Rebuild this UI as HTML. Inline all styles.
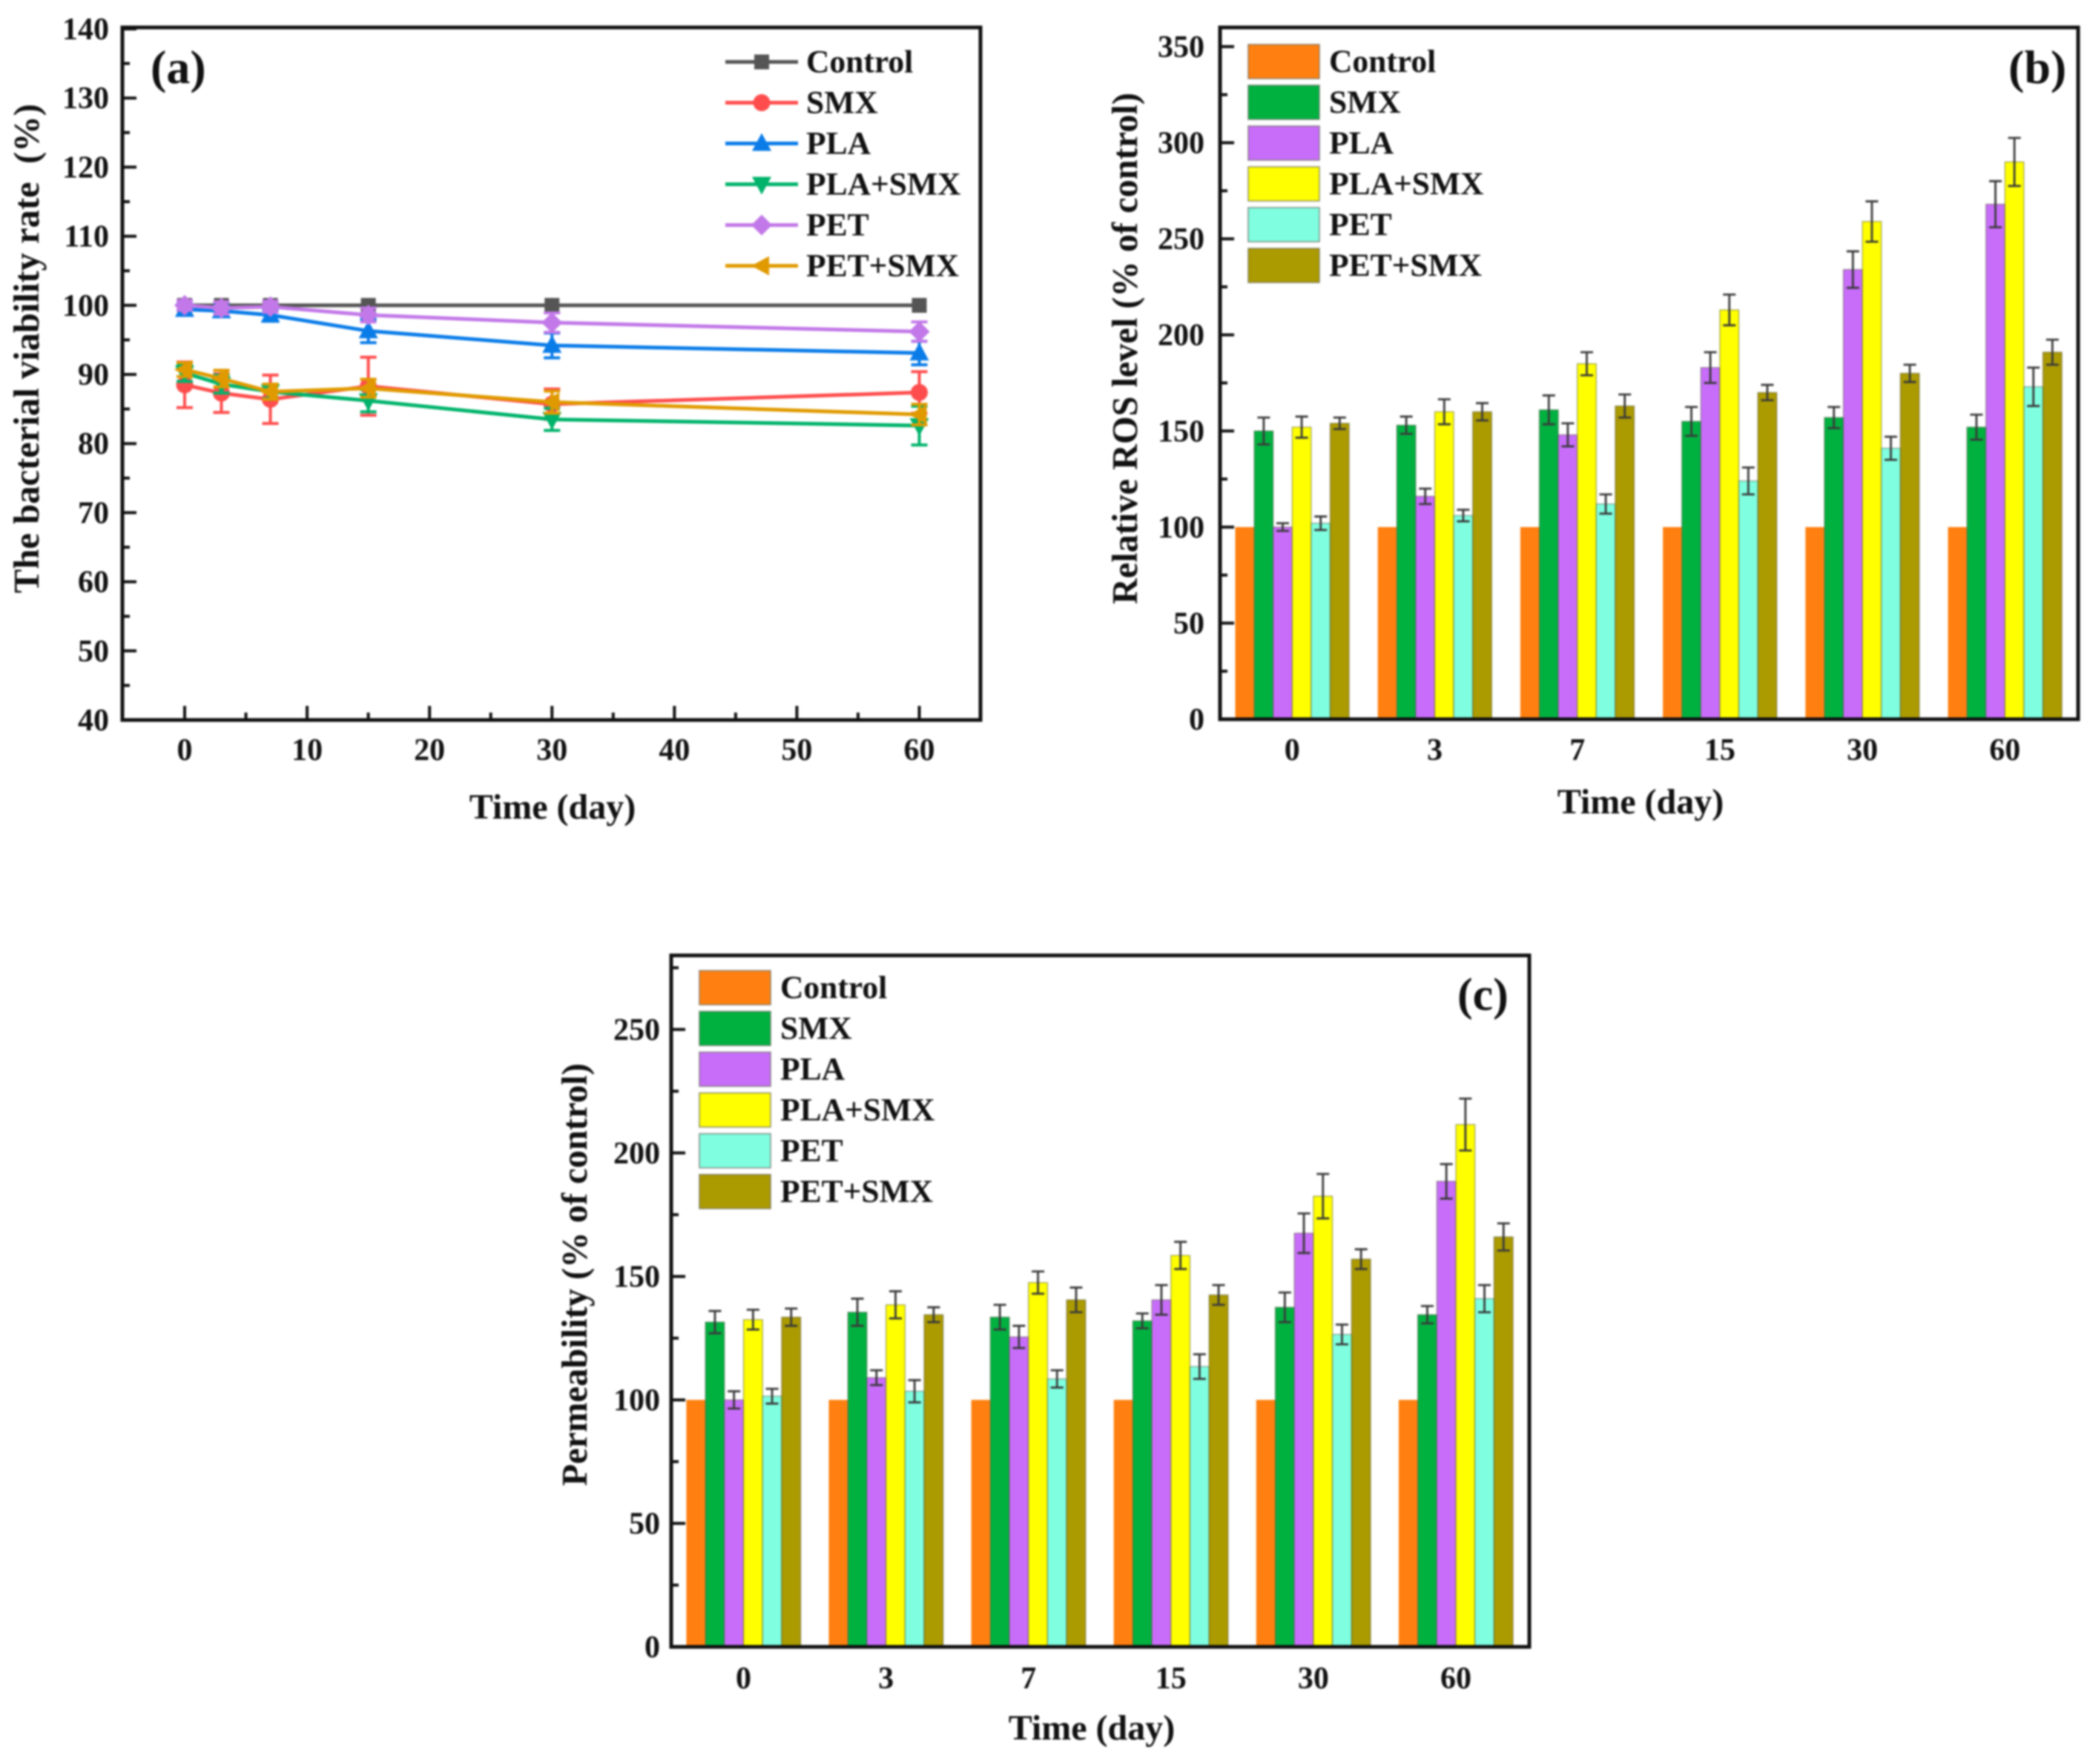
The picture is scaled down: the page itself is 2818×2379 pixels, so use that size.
<!DOCTYPE html>
<html lang="en">
<head>
<meta charset="utf-8">
<title>Bacterial viability, ROS level and permeability over time</title>
<style>
html,body{margin:0;padding:0;background:#fff;width:2818px;height:2379px;overflow:hidden}
svg{display:block;filter:blur(1.2px)}
text{font-family:"Liberation Serif",serif;font-weight:bold;fill:#111}
</style>
</head>
<body>
<svg id="fig" xmlns="http://www.w3.org/2000/svg" width="2818" height="2379" viewBox="0 0 2818 2379">
  <rect x="0" y="0" width="2818" height="2379" fill="#fff"/>
  <g id="panelA"></g>
  <g id="panelB"></g>
  <g id="panelC"></g>

  <text x="203" y="112" font-size="64">(a)</text>
  <text x="2708" y="112" font-size="64">(b)</text>
  <text x="1965" y="1362" font-size="62">(c)</text>

  <text x="745" y="1104" font-size="48" text-anchor="middle">Time (day)</text>
  <text x="2212" y="1097" font-size="48" text-anchor="middle">Time (day)</text>
  <text x="1472" y="2346" font-size="48" text-anchor="middle">Time (day)</text>

  <text transform="translate(52 470) rotate(-90)" font-size="48.6" text-anchor="middle" xml:space="preserve">The bacterial viability rate  (%)</text>
  <text transform="translate(1533 470) rotate(-90)" font-size="48.3" text-anchor="middle">Relative ROS level (% of control)</text>
  <text transform="translate(791 1719) rotate(-90)" font-size="48.4" text-anchor="middle">Permeability (% of control)</text>
</svg>

<script>
// ---------- shared data ----------
const seriesNames = ['Control', 'SMX', 'PLA', 'PLA+SMX', 'PET', 'PET+SMX'];
const dayValues = [0, 3, 7, 15, 30, 60];
const dayLabels = ['0', '3', '7', '15', '30', '60'];

// ---------- panel (a): viability ----------
const viabilityControl = [100, 100, 100, 100, 100, 100];
const viabilitySMX = [88.5, 87.3, 86.4, 88.3, 85.7, 87.4];
const viabilityPLA = [99.4, 99.2, 98.6, 96.3, 94.2, 93.1];
const viabilityPLASMX = [90.2, 88.6, 87.5, 86.2, 83.5, 82.6];
const viabilityPET = [100, 99.6, 99.8, 98.6, 97.5, 96.2];
const viabilityPETSMX = [90.7, 89.4, 87.5, 88, 86, 84.2];
const viabilityErrControl = [0, 0, 0, 0, 0, 0];
const viabilityErrSMX = [3.3, 2.8, 3.5, 4.2, 2.2, 3];
const viabilityErrPLA = [0.8, 0.8, 0.9, 1.7, 1.8, 1.7];
const viabilityErrPLASMX = [1.2, 1.3, 1, 1.6, 1.6, 2.8];
const viabilityErrPET = [0.7, 0.9, 0.8, 1, 1.4, 1.4];
const viabilityErrPETSMX = [1, 1.2, 1.1, 1.3, 1.6, 1.5];
const viabilityYTicks = [40, 50, 60, 70, 80, 90, 100, 110, 120, 130, 140];
const viabilityXTicks = [0, 10, 20, 30, 40, 50, 60];

// ---------- panel (b): ROS ----------
const rosControl = [100, 100, 100, 100, 100, 100];
const rosSMX = [150, 153, 161, 155, 157, 152];
const rosPLA = [100, 116, 148, 183, 234, 268];
const rosPLASMX = [152, 160, 185, 213, 259, 290];
const rosPET = [102, 106, 112, 124, 141, 173];
const rosPETSMX = [154, 160, 163, 170, 180, 191];
const rosErrControl = [0, 0, 0, 0, 0, 0];
const rosErrSMX = [7, 4.5, 7.5, 7.5, 5.5, 6.5];
const rosErrPLA = [2, 4, 6, 8, 9.5, 12];
const rosErrPLASMX = [5.5, 6.5, 6, 8, 10.5, 12.5];
const rosErrPET = [3.5, 3, 5, 7, 6, 10];
const rosErrPETSMX = [3, 4.5, 6, 4, 4.5, 6.5];
const rosYTicks = [0, 50, 100, 150, 200, 250, 300, 350];

// ---------- panel (c): permeability ----------
const permControl = [100, 100, 100, 100, 100, 100];
const permSMX = [131.5, 135.5, 133.5, 132, 137.5, 134.5];
const permPLA = [100, 109, 125.5, 140.5, 167.5, 188.5];
const permPLASMX = [132.5, 138.5, 147.5, 158.5, 182.5, 211.5];
const permPET = [101.5, 103.5, 108.5, 113.5, 126.5, 141];
const permPETSMX = [133.5, 134.5, 140.5, 142.5, 157, 166];
const permErrControl = [0, 0, 0, 0, 0, 0];
const permErrSMX = [4.5, 5.5, 5, 3, 6, 3.5];
const permErrPLA = [3.5, 3, 4.5, 6, 8, 7];
const permErrPLASMX = [4, 5.5, 4.5, 5.5, 9, 10.5];
const permErrPET = [3, 4.5, 3.5, 5, 4, 5.5];
const permErrPETSMX = [3.5, 3, 5, 4, 4, 5.5];
const permYTicks = [0, 50, 100, 150, 200, 250];

// ---------- styling ----------
const lineColors = ['#555555', '#ff4d4d', '#0a7ce8', '#00b36b', '#c278e8', '#e09a00'];
const markerKinds = ['square', 'circle', 'up', 'down', 'diamond', 'left'];
const barColors = ['#ff8010', '#00b140', '#c86dfa', '#ffff00', '#7fffe0', '#ab9a00'];

const NS = 'http://www.w3.org/2000/svg';
function mk(parent, tag, attrs) {
  const el = document.createElementNS(NS, tag);
  for (const k in attrs) el.setAttribute(k, attrs[k]);
  parent.appendChild(el);
  return el;
}
function linear(d0, d1, r0, r1) {
  return v => r0 + (v - d0) * (r1 - r0) / (d1 - d0);
}
function slug(s) {
  return s.toLowerCase().replace(/\+/g, '-');
}

function drawMarker(g, kind, cx, cy, color) {
  let el;
  if (kind === 'square') {
    el = mk(g, 'rect', {x: cx - 10, y: cy - 10, width: 20, height: 20, fill: color});
  } else if (kind === 'circle') {
    el = mk(g, 'circle', {cx: cx, cy: cy, r: 11.5, fill: color});
  } else {
    const pts = {
      up: [[0, -14], [13, 10], [-13, 10]],
      down: [[0, 14], [13, -10], [-13, -10]],
      left: [[-14, 0], [10, -13], [10, 13]],
      diamond: [[0, -14], [14, 0], [0, 14], [-14, 0]]
    }[kind];
    el = mk(g, 'polygon', {points: pts.map(p => (cx + p[0]) + ',' + (cy + p[1])).join(' '), fill: color});
  }
  
  
}

function drawFrame(g, left, right, top, bottom) {
  const el = mk(g, 'rect', {x: left, y: top, width: right - left, height: bottom - top, fill: 'none', stroke: '#111', 'stroke-width': 5});
  
  
}

function drawYAxis(g, y, ticks, left, labelX) {
  const step = ticks[1] - ticks[0];
  ticks.forEach((t, i) => {
    const tick = mk(g, 'line', {x1: left, x2: left + 19, y1: y(t), y2: y(t), stroke: '#111', 'stroke-width': 4});
    
    
    const label = mk(g, 'text', {x: labelX, y: y(t) + 14, 'font-size': 42, 'text-anchor': 'end'});
    label.textContent = t;
    
    
    const mid = t + step / 2;
    if (i < ticks.length - 1 || y(mid) > 40) {
      const minor = mk(g, 'line', {x1: left, x2: left + 10, y1: y(mid), y2: y(mid), stroke: '#111', 'stroke-width': 4});
      
      
    }
  });
}

// ---------- line chart ----------
function drawLinePanel() {
  const g = document.getElementById('panelA');
  const x = linear(0, 60, 249, 1239.5);
  const y = linear(40, 140, 971, 39);
  const series = [
    [viabilityControl, viabilityErrControl],
    [viabilitySMX, viabilityErrSMX],
    [viabilityPLA, viabilityErrPLA],
    [viabilityPLASMX, viabilityErrPLASMX],
    [viabilityPET, viabilityErrPET],
    [viabilityPETSMX, viabilityErrPETSMX]
  ];
  viabilityXTicks.forEach((t, i) => {
    const tick = mk(g, 'line', {x1: x(t), x2: x(t), y1: 971, y2: 952, stroke: '#111', 'stroke-width': 4});
    
    
    const label = mk(g, 'text', {x: x(t), y: 1025, 'font-size': 42, 'text-anchor': 'middle'});
    label.textContent = t;
    
    
    if (i < viabilityXTicks.length - 1) {
      const minor = mk(g, 'line', {x1: x(t + 5), x2: x(t + 5), y1: 971, y2: 961, stroke: '#111', 'stroke-width': 4});
      
      
    }
  });
  drawYAxis(g, y, viabilityYTicks, 165, 147);

  series.forEach((s, si) => {
    const color = lineColors[si];
    const sg = mk(g, 'g', {});
    
    
    const line = mk(sg, 'polyline', {
      points: dayValues.map((d, i) => x(d) + ',' + y(s[0][i])).join(' '),
      fill: 'none', stroke: color, 'stroke-width': 5
    });
    
    
    dayValues.forEach((d, i) => {
      const px = x(d);
      const hi = y(s[0][i] + s[1][i]);
      const lo = y(s[0][i] - s[1][i]);
      if (s[1][i] > 0) {
        const err = mk(sg, 'path', {
          d: 'M' + (px - 11) + ' ' + hi + 'H' + (px + 11) + 'M' + px + ' ' + hi + 'V' + lo + 'M' + (px - 11) + ' ' + lo + 'H' + (px + 11),
          fill: 'none', stroke: color, 'stroke-width': 4
        });
        
        
      }
      drawMarker(sg, markerKinds[si], px, y(s[0][i]), color);
    });
  });

  seriesNames.forEach((name, i) => {
    const cy = 83.5 + i * 55;
    const lg = mk(g, 'g', {});
    
    
    const key = mk(lg, 'line', {x1: 978, x2: 1076, y1: cy, y2: cy, stroke: lineColors[i], 'stroke-width': 5});
    
    
    drawMarker(lg, markerKinds[i], 1027, cy, lineColors[i]);
    const label = mk(lg, 'text', {x: 1087, y: cy + 14, 'font-size': 43.5});
    label.textContent = name;
    
    
  });
}

// ---------- bar charts ----------
function drawBarPanel(opts) {
  const g = opts.g;
  const y = linear(0, opts.yMax, opts.bottom, opts.top);
  drawYAxis(g, y, opts.ticks, opts.left, opts.labelX);
  const band = i => opts.groupStart + i * opts.groupStep;

  dayLabels.forEach((d, i) => {
    const label = mk(g, 'text', {x: band(i) + opts.barW * 3, y: opts.bottom + opts.xLabelDy, 'font-size': 42, 'text-anchor': 'middle'});
    label.textContent = d;
    
    
  });

  opts.series.forEach((s, si) => {
    const sg = mk(g, 'g', {});
    
    
    s[0].forEach((v, i) => {
      const bx = band(i) + si * opts.barW;
      const bar = mk(sg, 'rect', {
        x: bx, y: y(v), width: opts.barW, height: opts.bottom - y(v),
        fill: barColors[si], stroke: si === 0 ? 'none' : 'rgba(80,80,60,.45)', 'stroke-width': 1.5
      });
      
      
      if (s[1][i] > 0) {
        const cx = bx + opts.barW / 2;
        const hi = y(v + s[1][i]);
        const lo = y(v - s[1][i]);
        const err = mk(sg, 'path', {
          d: 'M' + (cx - 8.5) + ' ' + hi + 'H' + (cx + 8.5) + 'M' + cx + ' ' + hi + 'V' + lo + 'M' + (cx - 8.5) + ' ' + lo + 'H' + (cx + 8.5),
          fill: 'none', stroke: '#3a3a3a', 'stroke-width': 2.8
        });
        
        
      }
    });
  });

  seriesNames.forEach((name, i) => {
    const cy = opts.legendY + i * 55;
    const lg = mk(g, 'g', {});
    
    
    const sw = mk(lg, 'rect', {x: opts.legendX, y: cy - 23, width: 96, height: 46, fill: barColors[i], stroke: 'rgba(110,110,100,.6)', 'stroke-width': 2});
    
    
    const label = mk(lg, 'text', {x: opts.legendX + 109, y: cy + 14, 'font-size': 43.5});
    label.textContent = name;
    
    
  });

  drawFrame(g, opts.left, opts.right, opts.top, opts.bottom);
}

drawLinePanel();
drawFrame(document.getElementById('panelA'), 165, 1322, 37, 971);

drawBarPanel({
  g: document.getElementById('panelB'),
  left: 1645, right: 2802, top: 37, bottom: 970, yMax: 360,
  ticks: rosYTicks, labelX: 1624, xLabelDy: 55,
  groupStart: 1665.5, groupStep: 192.2, barW: 25.6,
  legendX: 1683, legendY: 83,
  series: [
    [rosControl, rosErrControl],
    [rosSMX, rosErrSMX],
    [rosPLA, rosErrPLA],
    [rosPLASMX, rosErrPLASMX],
    [rosPET, rosErrPET],
    [rosPETSMX, rosErrPETSMX]
  ]
});

drawBarPanel({
  g: document.getElementById('panelC'),
  left: 905, right: 2062, top: 1288.5, bottom: 2221, yMax: 280,
  ticks: permYTicks, labelX: 890, xLabelDy: 56,
  groupStart: 925.4, groupStep: 192.1, barW: 25.7,
  legendX: 943, legendY: 1332,
  series: [
    [permControl, permErrControl],
    [permSMX, permErrSMX],
    [permPLA, permErrPLA],
    [permPLASMX, permErrPLASMX],
    [permPET, permErrPET],
    [permPETSMX, permErrPETSMX]
  ]
});
</script>
</body>
</html>
